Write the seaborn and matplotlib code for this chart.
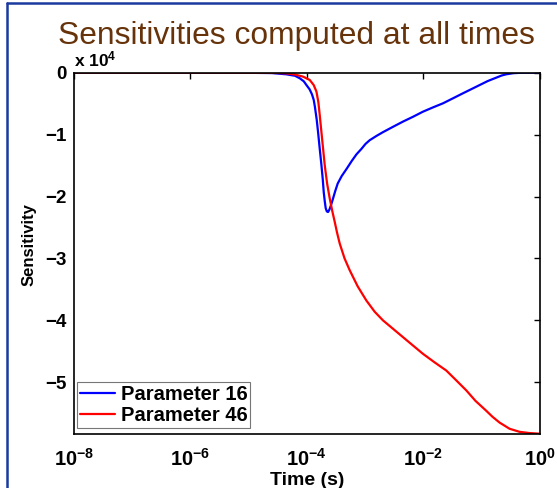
import numpy as np
import pandas as pd
import matplotlib
matplotlib.use("Agg")
import matplotlib.pyplot as plt
from matplotlib.lines import Line2D
from matplotlib.ticker import FixedLocator, FixedFormatter, NullLocator
import seaborn as sns

# ---------------- data ----------------
title = "Sensitivities computed at all times"
series_names = ["Parameter 16", "Parameter 46"]

# log10(time in s) and sensitivity (in units of 1e4)
p16_log_t = [-8.0, -6.0, -5.0, -4.6, -4.35, -4.2, -4.12, -4.05, -4.005, -3.95,
             -3.91, -3.88, -3.86, -3.83, -3.806, -3.78, -3.748, -3.725, -3.708,
             -3.69, -3.674, -3.655, -3.634, -3.61, -3.58, -3.554, -3.51, -3.468,
             -3.40, -3.313, -3.23, -3.147, -3.06, -2.99, -2.918, -2.80, -2.690,
             -2.52, -2.347, -2.17, -2.004, -1.83, -1.660, -1.49, -1.317, -1.17,
             -1.030, -0.89, -0.743, -0.65, -0.572, -0.45, -0.29, 0.0]
p16_sens = [0.0, 0.0, -0.002, -0.006, -0.026, -0.05, -0.09, -0.14, -0.20, -0.27,
            -0.35, -0.44, -0.55, -0.75, -0.955, -1.20, -1.49, -1.72, -1.93,
            -2.08, -2.19, -2.24, -2.25, -2.21, -2.13, -2.05, -1.91, -1.79,
            -1.67, -1.55, -1.43, -1.32, -1.23, -1.15, -1.09, -1.02, -0.96,
            -0.875, -0.79, -0.71, -0.63, -0.56, -0.495, -0.415, -0.333, -0.265,
            -0.20, -0.135, -0.08, -0.045, -0.026, -0.008, 0.0, 0.0]

p46_log_t = [-8.0, -6.0, -5.0, -4.5, -4.35, -4.2, -4.06, -3.948, -3.88, -3.833,
             -3.80, -3.777, -3.735, -3.691, -3.65, -3.605, -3.56, -3.519, -3.48,
             -3.433, -3.35, -3.262, -3.125, -2.975, -2.833, -2.690, -2.558, -2.403,
             -2.215, -2.003, -1.80, -1.602, -1.44, -1.259, -1.10, -0.915, -0.81,
             -0.687, -0.515, -0.343, -0.17, 0.0]
p46_sens = [0.0, 0.0, -0.001, -0.004, -0.01, -0.03, -0.065, -0.118, -0.20, -0.307,
            -0.48, -0.684, -1.08, -1.493, -1.79, -2.032, -2.24, -2.41, -2.58,
            -2.76, -3.0, -3.19, -3.45, -3.68, -3.86, -4.00, -4.104, -4.226,
            -4.374, -4.54, -4.68, -4.81, -4.96, -5.13, -5.30, -5.46, -5.555,
            -5.65, -5.75, -5.80, -5.82, -5.83]

y_scale = 1e4
x_ticks = [1e-8, 1e-6, 1e-4, 1e-2, 1e0]
x_ticklabels = [r"$\mathbf{10^{-8}}$", r"$\mathbf{10^{-6}}$", r"$\mathbf{10^{-4}}$",
                r"$\mathbf{10^{-2}}$", r"$\mathbf{10^{0}}$"]
y_ticks = [0, -1, -2, -3, -4, -5]
y_ticklabels = ["0", "\u22121", "\u22122", "\u22123", "\u22124", "\u22125"]

df = pd.concat([
    pd.DataFrame({"time": 10.0 ** np.array(p16_log_t),
                  "sens": np.array(p16_sens) * y_scale,
                  "param": series_names[0]}),
    pd.DataFrame({"time": 10.0 ** np.array(p46_log_t),
                  "sens": np.array(p46_sens) * y_scale,
                  "param": series_names[1]}),
], ignore_index=True)

# ---------------- style ----------------
sns.set_style("white")
plt.rcParams["font.family"] = ["Liberation Sans", "DejaVu Sans"]
plt.rcParams["mathtext.fontset"] = "custom"
plt.rcParams["mathtext.rm"] = "Liberation Sans:bold"
plt.rcParams["mathtext.bf"] = "Liberation Sans:bold"
plt.rcParams["mathtext.it"] = "Liberation Sans:bold"
plt.rcParams["axes.unicode_minus"] = True
for k in ["text.color", "axes.labelcolor", "xtick.color", "ytick.color"]:
    plt.rcParams[k] = "black"

W, H = 557, 488
fig = plt.figure(figsize=(W / 100, H / 100), dpi=100)
fig.patch.set_facecolor("white")

ax_l, ax_r, ax_t, ax_b = 74, 539.5, 72.7, 434
ax = fig.add_axes([ax_l / W, 1 - ax_b / H, (ax_r - ax_l) / W, (ax_b - ax_t) / H])
ax.set_xscale("log")

sns.lineplot(data=df, x="time", y="sens", hue="param",
             palette=["#0000FF", "#FF0000"], sort=False, estimator=None,
             linewidth=1.6, ax=ax)

ax.set_xlim(1e-8, 1e0)
ax.set_ylim(-5.835 * y_scale, 0)

ax.xaxis.set_major_locator(FixedLocator(x_ticks))
ax.xaxis.set_major_formatter(FixedFormatter(x_ticklabels))
ax.xaxis.set_minor_locator(NullLocator())
ax.yaxis.set_major_locator(FixedLocator([v * y_scale for v in y_ticks]))
ax.yaxis.set_major_formatter(FixedFormatter(y_ticklabels))

ax.tick_params(axis="both", which="major", direction="in", length=4, width=1.0,
               top=True, right=True, colors="black")
ax.tick_params(axis="y", labelsize=13.5, pad=5)
ax.tick_params(axis="x", labelsize=14.5, pad=10)
for lab in ax.get_yticklabels():
    lab.set_fontweight("bold")
for sp in ax.spines.values():
    sp.set_color("black")
    sp.set_linewidth(1.2)

ax.set_xlabel("Time (s)", fontsize=14, fontweight="bold")
ax.xaxis.set_label_coords(0.5, -(472 - ax_b) / (ax_b - ax_t))
ax.set_ylabel("Sensitivity", fontsize=12, fontweight="bold")
ax.yaxis.set_label_coords(-(ax_l - 37) / (ax_r - ax_l), (ax_b - 245) / (ax_b - ax_t))

# exponent marker
ax.text(0.0, 1 + 6.7 / (ax_b - ax_t), r"x 10$^{\mathbf{4}}$", transform=ax.transAxes,
        fontsize=12.5, fontweight="bold", ha="left", va="baseline")

# legend
leg = ax.legend(loc="lower left",
                bbox_to_anchor=((77.3 - ax_l) / (ax_r - ax_l), (ax_b - 428.3) / (ax_b - ax_t)),
                borderaxespad=0, frameon=True, fancybox=False, fontsize=14.5,
                handlelength=1.7, handletextpad=0.3, borderpad=0.15,
                labelspacing=0.1, title=None)
leg.get_frame().set_edgecolor("#555555")
leg.get_frame().set_linewidth(0.8)
for t in leg.get_texts():
    t.set_fontweight("bold")

# slide title
fig.text(296 / W, 1 - 44 / H, title, fontsize=22.9, color="#66330A",
         ha="center", va="baseline")

# slide border (top and left edges)
border_c = "#1b3aa0"
fig.add_artist(Line2D([7 / W, 1.0], [1 - 3 / H, 1 - 3 / H],
                      transform=fig.transFigure, color=border_c, lw=1.8))
fig.add_artist(Line2D([7 / W, 7 / W], [0.0, 1 - 3 / H],
                      transform=fig.transFigure, color=border_c, lw=1.8))

fig.savefig("out.png", dpi=100, facecolor="white")
